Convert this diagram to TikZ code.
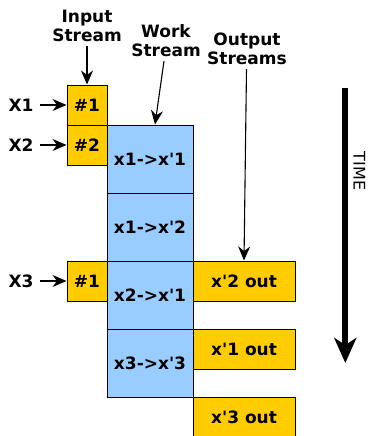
\documentclass[tikz,border=0pt]{standalone}
\usepackage{fontspec}
\newfontfamily\dv{DejaVu Sans}
\usetikzlibrary{arrows.meta}
\definecolor{inyellow}{HTML}{FFCC00}
\definecolor{workblue}{HTML}{99CCFF}
\begin{document}
\begin{tikzpicture}[x=1pt,y=-1pt,
  lbl/.style={font=\dv\bfseries\fontsize{17}{19.5}\selectfont, inner sep=0pt},
  inbox/.style={lbl, draw=black, fill=inyellow, line width=1pt, minimum width=40pt, minimum height=40pt},
  workbox/.style={lbl, draw=black, fill=workblue, line width=1pt, minimum width=86pt, minimum height=68pt},
  outbox/.style={lbl, draw=black, fill=inyellow, line width=1pt, minimum width=102pt, minimum height=40pt},
  arr/.style={-{Stealth[length=14pt,width=12pt,inset=4.5pt]}, line width=1.1pt},
  timearr/.style={-{Stealth[length=25pt,width=22pt,inset=7pt]}, line width=6pt},
]
\useasboundingbox (0,0) rectangle (367,436);

% work stream boxes
\node[workbox] (w1) at (150,159) {x1->x'1};
\node[workbox] (w2) at (150,227) {x1->x'2};
\node[workbox] (w3) at (150,295) {x2->x'1};
\node[workbox] (w4) at (150,363) {x3->x'3};

% input boxes
\node[inbox] (i1) at (87,105) {\#1};
\node[inbox] (i2) at (87,145) {\#2};
\node[inbox] (i3) at (87,281) {\#1};

% output boxes
\node[outbox] (o1) at (244,281) {x'2 out};
\node[outbox] (o2) at (244,349) {x'1 out};
\node[outbox] (o3) at (244,417) {x'3 out};

% input labels
\node[lbl] (x1) at (21,105) {X1};
\node[lbl] (x2) at (21,145) {X2};
\node[lbl] (x3) at (21,281) {X3};
\draw[arr, shorten <=6pt] (x1) -- (i1);
\draw[arr, shorten <=6pt] (x2) -- (i2);
\draw[arr, shorten <=6pt] (x3) -- (i3);

% headings
\node[lbl, align=center] (inlbl) at (87,25.8) {Input\\Stream};
\node[lbl, align=center] (wlbl) at (166,40.8) {Work\\Stream};
\node[lbl, align=center] (olbl) at (247,48.7) {Output\\Streams};

\draw[arr, shorten <=4pt] (inlbl) -- (i1);
\coordinate (wsStart) at (164,61);
\draw[arr] (wsStart) -- ([xshift=5pt]w1.north);
\coordinate (osStart) at (246.5,69);
\draw[arr] (osStart) -- (o1.north);

% time arrow
\coordinate (tA) at (345.3,88);
\coordinate (tB) at (345.3,363);
\draw[timearr] (tA) -- (tB);
\node[font=\dv\fontsize{16}{19}\selectfont, inner sep=0pt, rotate=-90] (time) at (359.5,171) {TIME};
\end{tikzpicture}
\end{document}
